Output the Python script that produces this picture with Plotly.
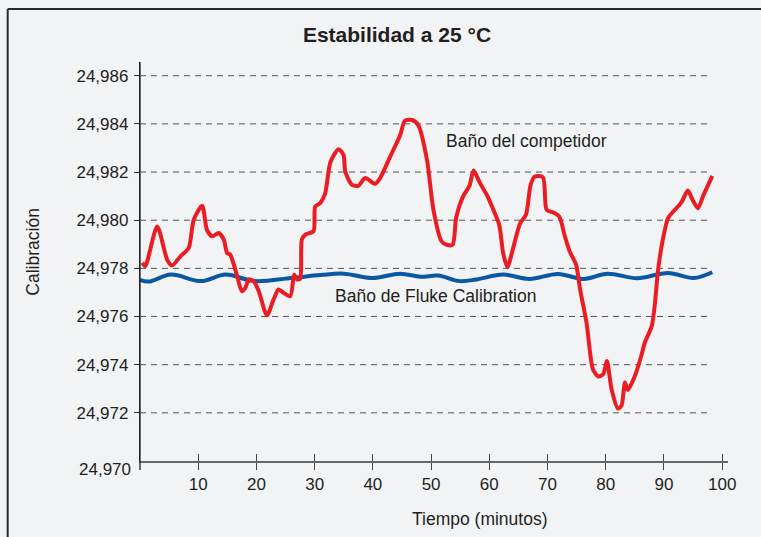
import plotly.graph_objects as go

# ---- data ----
red_x = [0.4, 0.9, 2.95, 4.67, 5.5, 6.95, 8.37, 9.23, 10.67, 11.5, 12.4, 13.5, 14.4, 14.95, 15.5,
         16.7, 17.5, 18.1, 18.7, 19.5, 20.4, 21.8, 22.95, 23.8, 24.7, 25.8, 26.5, 26.96, 27.5, 27.8,
         28.4, 29.8, 30.1, 30.96, 31.8, 32.7, 34.1, 34.96, 35.25, 36.4, 37.5, 38.7, 40.4, 41.25,
         42.97, 44.7, 45.5, 46.7, 47.8, 49.3, 50.4, 51.8, 52.7, 53.7, 54.3, 55.5, 56.6, 57.3, 58.4,
         59.55, 60.7, 61.7, 62.4, 63.1, 64.1, 65.3, 66.3, 67.1, 67.8, 69.2, 69.85, 70.98, 72.0,
         72.98, 73.8, 74.9, 75.6, 76.7, 77.8, 78.7, 79.55, 80.2, 81.0, 82.1, 82.7, 83.3, 83.8,
         85.0, 86.1, 86.7, 87.9, 88.4, 89.0, 89.8, 90.7, 91.6, 93.0, 94.1, 94.9, 95.85, 96.7, 98.3]
red_y = [24.97823, 24.97809, 24.97974, 24.97836, 24.97812, 24.97850, 24.97885, 24.98002, 24.98060,
         24.97960, 24.97933, 24.97947, 24.97919, 24.97864, 24.97857, 24.97767, 24.97705, 24.97719,
         24.97754, 24.97747, 24.97705, 24.97605, 24.97671, 24.97712, 24.97698, 24.97684, 24.97774,
         24.97754, 24.97756, 24.97919, 24.97940, 24.97954, 24.98057, 24.98071, 24.98110, 24.98240,
         24.98295, 24.98271, 24.98202, 24.98147, 24.98143, 24.98175, 24.98151, 24.98175, 24.98264,
         24.98354, 24.98413, 24.98416, 24.98395, 24.98250, 24.98043, 24.97912, 24.97898, 24.97898,
         24.98009, 24.98099, 24.98143, 24.98206, 24.98154, 24.98106, 24.98043, 24.97981, 24.97860,
         24.97805, 24.97885, 24.97988, 24.98023, 24.98147, 24.98181, 24.98179, 24.98043, 24.98032,
         24.98016, 24.97933, 24.97871, 24.97816, 24.97712, 24.97574, 24.97381, 24.97351, 24.97360,
         24.97415, 24.97298, 24.97218, 24.97229, 24.97326, 24.97295, 24.97353, 24.97436, 24.97491,
         24.97560, 24.97643, 24.97795, 24.97919, 24.98009, 24.98036, 24.98074, 24.98123, 24.98085,
         24.98050, 24.98099, 24.98184]

blue_x = [0, 1.5, 5.3, 10.5, 14.7, 19.7, 26, 31, 35, 39.9, 44.7, 48.2, 51.2, 54.9, 57.8, 62.4,
          66.9, 71.8, 76.2, 80.3, 85.4, 90.7, 95.1, 98.3]
blue_y = [24.97752, 24.97745, 24.97774, 24.97747, 24.97774, 24.97747, 24.97760, 24.97772, 24.97778,
          24.97760, 24.97778, 24.97765, 24.97770, 24.97747, 24.97754, 24.97774, 24.97756, 24.97777,
          24.97756, 24.97778, 24.97759, 24.97781, 24.97760, 24.97784]

x_ticks = [10, 20, 30, 40, 50, 60, 70, 80, 90, 100]
y_ticks = [24.972, 24.974, 24.976, 24.978, 24.980, 24.982, 24.984, 24.986]
y_labels = ["24,972", "24,974", "24,976", "24,978", "24,980", "24,982", "24,984", "24,986"]
y_min_label = "24,970"

title = "Estabilidad a 25 °C"
x_title = "Tiempo (minutos)"
y_title = "Calibración"
red_name = "Baño del competidor"
blue_name = "Baño de Fluke Calibration"

# ---- layout geometry ----
W, H = 761, 537
L, R, T, B = 139.5, 32.7, 62, 76
plot_w = W - L - R
plot_h = H - T - B
Y0 = 24.970
Y1 = Y0 + plot_h / 48.16 * 0.002
X1 = 101

def px(xp):
    return (xp - L) / plot_w

def py(yp):
    return (H - B - yp) / plot_h

BG = "#f2f3f5"
TXT = "#231f20"
FONT = "Liberation Sans, Arial, Helvetica, sans-serif"
FS = 17
FA = 17.5

fig = go.Figure()
fig.add_trace(go.Scatter(x=blue_x, y=blue_y, mode="lines", name=blue_name,
                         line=dict(color="#0a57a4", width=4, shape="spline", smoothing=1.0)))
fig.add_trace(go.Scatter(x=red_x, y=red_y, mode="lines", name=red_name,
                         line=dict(color="#ec1c24", width=4, shape="spline", smoothing=0.7)))
# overlay axis for the upper half of the crossing ticks
fig.add_trace(go.Scatter(x=[0], y=[Y0], xaxis="x2", mode="markers",
                         marker=dict(opacity=0), showlegend=False, hoverinfo="skip"))

shapes = []
for v in y_ticks:
    shapes.append(dict(type="line", xref="x", yref="y", x0=0, x1=97.9, y0=v, y1=v,
                       line=dict(color="#555555", width=1, dash="6px,5px"), layer="below"))
# y-axis extension below x axis
shapes.append(dict(type="line", xref="paper", yref="paper", x0=0, x1=0, y0=py(470), y1=1,
                   line=dict(color="#222222", width=1.3)))
# frame
shapes.append(dict(type="line", xref="paper", yref="paper", x0=px(7), x1=px(7), y0=py(540), y1=py(9),
                   line=dict(color="#2a2a2a", width=2)))
shapes.append(dict(type="line", xref="paper", yref="paper", x0=px(7), x1=px(765), y0=py(9), y1=py(9),
                   line=dict(color="#2a2a2a", width=2)))

annotations = [
    dict(text=red_name, xref="x", yref="y", x=(527 - L) / plot_w * X1, y=Y0 + (H - B - 141) / 48.16 * 0.002,
         xanchor="center", yanchor="middle", showarrow=False, font=dict(size=FA, color=TXT, family=FONT)),
    dict(text=blue_name, xref="x", yref="y", x=(435 - L) / plot_w * X1, y=Y0 + (H - B - 296) / 48.16 * 0.002,
         xanchor="center", yanchor="middle", showarrow=False, font=dict(size=FA, color=TXT, family=FONT)),
    dict(text=x_title, xref="paper", yref="paper", x=px(480), y=py(519), xanchor="center", yanchor="middle",
         showarrow=False, font=dict(size=FA, color=TXT, family=FONT)),
    dict(text=y_title, xref="paper", yref="paper", x=px(32), y=py(252), xanchor="center", yanchor="middle",
         showarrow=False, textangle=-90, font=dict(size=FA, color=TXT, family=FONT)),
    dict(text=y_min_label, xref="paper", yref="paper", x=px(132), y=py(469), xanchor="right",
         yanchor="middle", showarrow=False, font=dict(size=FS, color=TXT, family=FONT)),
]

fig.update_layout(
    width=W, height=H,
    margin=dict(l=L, r=R, t=T, b=B, pad=0),
    paper_bgcolor=BG, plot_bgcolor=BG,
    showlegend=False,
    separators=",.",
    font=dict(family=FONT, color=TXT, size=FS),
    title=dict(text="<b>" + title + "</b>", x=397 / W, xanchor="center", y=1 - 35 / H, yanchor="middle",
               font=dict(size=21, color=TXT, family=FONT)),
    xaxis=dict(range=[0, X1], tickvals=x_ticks, ticks="outside", ticklen=7, tickwidth=1.3,
               tickcolor="#444444", showline=True, linecolor="#666666", linewidth=1.5,
               showgrid=False, zeroline=False, tickfont=dict(size=FS, color=TXT),
               ticklabelstandoff=0, fixedrange=True),
    xaxis2=dict(range=[0, X1], tickvals=x_ticks, ticks="inside", ticklen=7, tickwidth=1.3,
                tickcolor="#444444", showticklabels=False, showline=False, showgrid=False,
                zeroline=False, overlaying="x", anchor="y", side="bottom"),
    yaxis=dict(range=[Y0, Y1], tickvals=y_ticks, ticktext=y_labels, ticks="outside", ticklen=5,
               tickwidth=1.2, tickcolor="#333333", showline=True, linecolor="#222222", linewidth=1.3,
               showgrid=False, zeroline=False, tickfont=dict(size=FS, color=TXT),
               ticklabelstandoff=2),
    shapes=shapes,
    annotations=annotations,
)

fig.write_html("out.html", config={"displayModeBar": False},
               post_script="document.body.style.margin='0';document.body.style.overflow='hidden';")
